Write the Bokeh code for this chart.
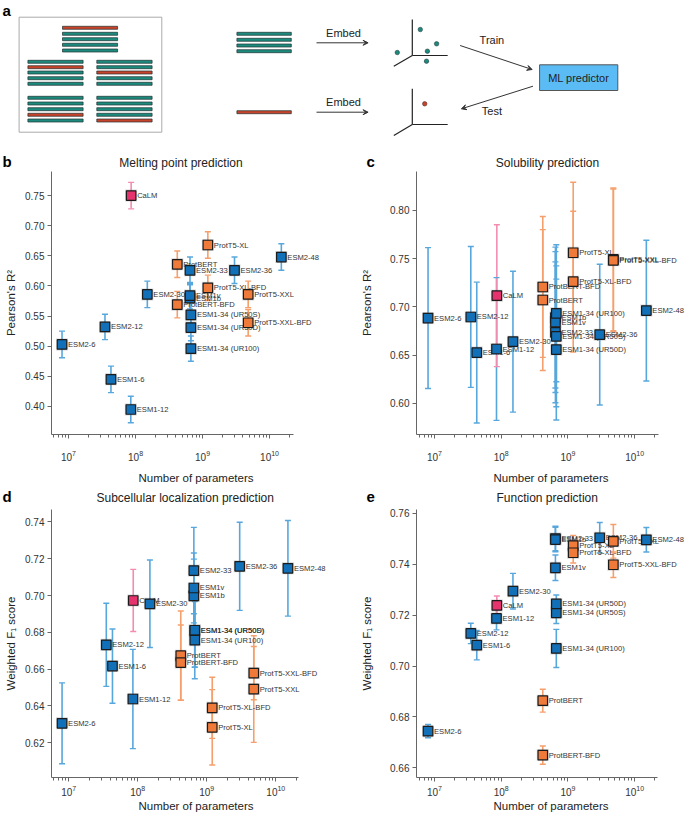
from bokeh.plotting import figure
from bokeh.models import (Range1d, FixedTicker, NumeralTickFormatter, Arrow,
                          VeeHead, ColumnDataSource)
from bokeh.layouts import column, row
from bokeh.embed import file_html
from bokeh.resources import INLINE
from bokeh.core.properties import value

FONT = "Liberation Sans"

# ---------------- data ----------------
models = ["ESM2-6", "ESM2-12", "ESM1-6", "ESM1-12", "CaLM", "ESM2-30",
          "ESM2-33", "ESM1b", "ESM1v", "ESM1-34 (UR50S)", "ESM1-34 (UR50D)",
          "ESM1-34 (UR100)", "ProtBERT", "ProtBERT-BFD", "ProtT5-XL",
          "ProtT5-XL-BFD", "ESM2-36", "ProtT5-XXL", "ProtT5-XXL-BFD", "ESM2-48"]
n_params = [8e6, 35e6, 43e6, 85e6, 86e6, 150e6, 650e6, 650e6, 650e6, 670e6, 670e6, 670e6,
            420e6, 420e6, 1.2e9, 1.2e9, 3e9, 4.8e9, 4.8e9, 15e9]

melt_r2 = [0.503, 0.532, 0.445, 0.395, 0.750, 0.586, 0.626, 0.580, 0.584, 0.552, 0.531,
           0.496, 0.636, 0.569, 0.668, 0.597, 0.626, 0.586, 0.539, 0.648]
melt_err = [0.022, 0.021, 0.022, 0.022, 0.022, 0.022, 0.022, 0.022, 0.022, 0.022, 0.022,
            0.021, 0.022, 0.022, 0.022, 0.021, 0.022, 0.022, 0.022, 0.022]

sol_r2 = [0.6885, 0.6896, 0.6527, 0.6564, 0.7117, 0.6640, 0.6737, 0.6890, 0.6844, 0.6696,
          0.6558, 0.6934, 0.7072, 0.7207, 0.7562, 0.7262, 0.6713, 0.7493, 0.7483, 0.6962]
sol_err = [0.073, 0.073, 0.073, 0.074, 0.0735, 0.073, 0.073, 0.073, 0.073, 0.073,
           0.073, 0.071, 0.073, 0.073, 0.073, 0.073, 0.073, 0.074, 0.074, 0.073]

loc_f1 = [0.6305, 0.6732, 0.6616, 0.6437, 0.6973, 0.6955, 0.7136, 0.6998, 0.7041, 0.6809,
          0.6811, 0.6757, 0.6673, 0.6635, 0.6283, 0.6389, 0.7159, 0.6491, 0.6578, 0.7148]
loc_err = [0.022, 0.0226, 0.0202, 0.027, 0.0169, 0.0238, 0.0235, 0.020, 0.019, 0.020,
           0.020, 0.021, 0.0243, 0.0205, 0.0205, 0.0166, 0.024, 0.029, 0.0145, 0.026]

fun_f1 = [0.6744, 0.7128, 0.7082, 0.7187, 0.7238, 0.7294, 0.7501, 0.7497, 0.7386, 0.7209,
          0.7244, 0.7069, 0.6864, 0.6650, 0.7473, 0.7445, 0.7504, 0.7490, 0.7398, 0.7496]
fun_err = [0.0026, 0.004, 0.0058, 0.0045, 0.0037, 0.007, 0.0048, 0.0048, 0.005, 0.0042,
           0.0035, 0.0075, 0.0045, 0.0036, 0.004, 0.004, 0.006, 0.0066, 0.005, 0.0048]

melt_ticks = [0.40, 0.45, 0.50, 0.55, 0.60, 0.65, 0.70, 0.75]
sol_ticks = [0.60, 0.65, 0.70, 0.75, 0.80]
loc_ticks = [0.62, 0.64, 0.66, 0.68, 0.70, 0.72, 0.74]
fun_ticks = [0.66, 0.68, 0.70, 0.72, 0.74, 0.76]

panel_titles = ["Melting point prediction", "Solubility prediction",
                "Subcellular localization prediction", "Function prediction"]
panel_letters = ["a", "b", "c", "d", "e"]

FILL = {"ESM": "#1170b8", "Prot": "#f07a3a", "CaLM": "#e6336e"}
ERRC = {"ESM": "#58a7dc", "Prot": "#f5a06c", "CaLM": "#f28db0"}


def fam(name):
    if name == "CaLM":
        return "CaLM"
    return "Prot" if name.startswith("Prot") else "ESM"


def panel(w, h, bl, bt, bb, xlog, xbounds, yr, yticks, ylabel, vals, errs,
          lab_so, axl_so, y_axl_so):
    p = figure(width=w, height=h, x_axis_type="log",
               x_range=Range1d(10 ** xlog[0], 10 ** xlog[1]),
               y_range=Range1d(yr[0], yr[1]),
               output_backend="svg", toolbar_location=None,
               min_border_left=bl, min_border_right=0, min_border_top=bt,
               min_border_bottom=bb)
    p.grid.visible = False
    p.outline_line_color = None
    for ax in (p.xaxis, p.yaxis):
        ax.axis_line_color = "#666666"
        ax.major_tick_line_color = "#666666"
        ax.minor_tick_line_color = "#666666"
        ax.major_tick_in = 0
        ax.major_tick_out = 4
        ax.minor_tick_in = 0
        ax.minor_tick_out = 3
        ax.major_label_text_font = FONT
        ax.major_label_text_font_size = "10px"
        ax.major_label_text_color = "#333333"
        ax.axis_label_text_font = FONT
        ax.axis_label_text_font_size = "11.5px"
        ax.axis_label_text_font_style = "normal"
        ax.axis_label_text_color = "#222222"
    p.yaxis.major_label_standoff = 3
    p.yaxis.axis_label_standoff = y_axl_so
    p.xaxis.major_label_standoff = lab_so
    p.xaxis.axis_label_standoff = axl_so
    p.xaxis.bounds = (10 ** xbounds[0], 10 ** xbounds[1])
    p.xaxis.axis_label = "Number of parameters"
    p.yaxis.axis_label = ylabel
    p.yaxis.ticker = FixedTicker(ticks=yticks)
    p.yaxis.formatter = NumeralTickFormatter(format="0.00")

    fams = [fam(m) for m in models]
    src = ColumnDataSource(dict(
        x=n_params, y=vals,
        lo=[v - e for v, e in zip(vals, errs)],
        hi=[v + e for v, e in zip(vals, errs)],
        name=models,
        fill=[FILL[f] for f in fams],
        err=[ERRC[f] for f in fams]))
    p.segment(x0="x", y0="lo", x1="x", y1="hi", line_color="err", line_width=1.6, source=src)
    p.scatter(x="x", y="lo", marker="dash", size=6, line_color="err", line_width=1.4, source=src)
    p.scatter(x="x", y="hi", marker="dash", size=6, line_color="err", line_width=1.4, source=src)
    p.text(x="x", y="y", text="name", x_offset=6, text_baseline="middle",
           text_font=value(FONT), text_font_size="7.6px", text_color="#333333", source=src)
    p.scatter(x="x", y="y", marker="square", size=12, fill_color="#777777",
              line_color=None, fill_alpha=0.3, source=src)
    p.scatter(x="x", y="y", marker="square", size=9.5, fill_color="fill",
              line_color="#1b1b1b", line_width=1.2, source=src)
    return p


pb = panel(340, 317, 51, 0, 54, (6.746, 11.059), (6.746, 10.358), (0.3535, 0.790),
           melt_ticks, "Pearson's R²", melt_r2, melt_err, 11, 8, 5)
pc = panel(345, 317, 76, 0, 54, (6.73, 10.763), (6.73, 10.36), (0.5678, 0.8404),
           sol_ticks, "Pearson's R²", sol_r2, sol_err, 11, 8, 14)
pd_ = panel(340, 310, 51, 0, 38, (6.75, 10.938), (6.75, 10.33), (0.6010, 0.7468),
            loc_ticks, "Weighted F₁ score", loc_f1, loc_err, 3, 1, 5)
pe = panel(345, 310, 76, 4, 38, (6.73, 10.763), (6.73, 10.34), (0.6562, 0.7615),
           fun_ticks, "Weighted F₁ score", fun_f1, fun_err, 3, 1, 14)

# ---------------- panel a (schematic) + titles of b, c ----------------
TEAL = "#1d8a7e"
RED = "#c8432b"
pa = figure(width=685, height=171, x_range=Range1d(0, 685), y_range=Range1d(171, 0),
            x_axis_type=None, y_axis_type=None, output_backend="svg",
            toolbar_location=None, min_border=0)
pa.grid.visible = False
pa.outline_line_color = None

pa.quad(left=[18.6], right=[161.3], top=[16.7], bottom=[131.7],
        fill_color=None, line_color="#aaaaaa", line_width=1)

groups = [
    ((62.0, 117.1), [27.3, 33.3, 38.7, 44.3, 50.0], "RTTTT"),
    ((27.4, 82.6), [61.3, 66.7, 72.0, 77.7, 83.3], "TRTTT"),
    ((96.3, 151.6), [61.3, 66.7, 72.0, 77.7, 83.3], "TTRTT"),
    ((27.4, 82.6), [97.3, 103.0, 108.7, 114.3, 120.0], "TTTRT"),
    ((96.3, 151.6), [97.3, 103.0, 108.7, 114.3, 120.0], "TTTTR"),
    ((236.4, 290.8), [33.3, 39.3, 45.0, 50.7], "TTTT"),
    ((236.4, 290.8), [111.7], "R"),
]
L, R, T, B, C = [], [], [], [], []
for (x0, x1), ys, cols in groups:
    for yy, cc in zip(ys, cols):
        L.append(x0); R.append(x1); T.append(yy - 1.5); B.append(yy + 1.5)
        C.append(TEAL if cc == "T" else RED)
pa.quad(left=L, right=R, top=T, bottom=B, fill_color=C, line_color="#203030", line_width=0.7)

ax_x0 = [411.8, 411.8, 411.8, 411.8, 411.8, 411.8]
ax_y0 = [19.0, 55.0, 55.0, 88.3, 124.0, 124.0]
ax_x1 = [411.8, 447.2, 393.3, 411.8, 447.2, 393.3]
ax_y1 = [55.0, 55.0, 65.7, 124.0, 124.0, 135.0]
pa.segment(x0=ax_x0, y0=ax_y0, x1=ax_x1, y1=ax_y1, line_color="#222222", line_width=1.2)
pa.scatter(x=[419.8, 436.1, 396.8, 426.9, 426.0], y=[29.0, 43.3, 52.0, 50.7, 60.7],
           size=4.5, fill_color=TEAL, line_color="#203030", line_width=0.5)
pa.scatter(x=[424.2], y=[103.3], size=4.5, fill_color=RED, line_color="#402020", line_width=0.5)

arrows = [((316, 42.3), (367.6, 42.3)), ((316, 111.7), (367.6, 111.7)),
          ((459.6, 45.0), (531.6, 69.0)), ((532.5, 85.7), (460.9, 108.3))]
for (xs, ys), (xe, ye) in arrows:
    pa.add_layout(Arrow(x_start=xs, y_start=ys, x_end=xe, y_end=ye,
                        line_color="#333333", line_width=1,
                        end=VeeHead(size=5, line_color="#333333", fill_color="#333333",
                                    line_width=1)))

pa.quad(left=[539.1], right=[617.3], top=[64.3], bottom=[90.0], fill_color="#5bbcf5",
        line_color="#555555", line_width=1)
pa.text(x=[343, 343, 491.4, 491.4, 578.2], y=[32.3, 101.7, 39.0, 110.7, 77.3],
        text=["Embed", "Embed", "Train", "Test", "ML predictor"],
        text_align="center", text_baseline="middle", text_font=value(FONT),
        text_font_size="11px", text_color="#222222")
pa.text(x=[2, 2, 366], y=[9.5, 160.5, 161], text=panel_letters[:3], text_align="left",
        text_baseline="middle", text_font=value(FONT), text_font_size="15px",
        text_font_style="bold", text_color="#000000")
pa.text(x=[180.5, 547], y=[162.5, 162.5], text=panel_titles[:2], text_align="center",
        text_baseline="middle", text_font=value(FONT), text_font_size="12px",
        text_color="#222222")

# ---------------- strip with titles of d, e ----------------
ps = figure(width=685, height=17, x_range=Range1d(0, 685), y_range=Range1d(505, 488),
            x_axis_type=None, y_axis_type=None, output_backend="svg",
            toolbar_location=None, min_border=0)
ps.grid.visible = False
ps.outline_line_color = None
ps.text(x=[2, 366], y=[496, 496.5], text=panel_letters[3:], text_align="left",
        text_baseline="middle", text_font=value(FONT), text_font_size="15px",
        text_font_style="bold", text_color="#000000")
ps.text(x=[184.7, 546.7], y=[497.5, 497.5], text=panel_titles[2:], text_align="center",
        text_baseline="middle", text_font=value(FONT), text_font_size="12px",
        text_color="#222222")

layout = column(pa, row(pb, pc), ps, row(pd_, pe))
open("out.html", "w").write(file_html(layout, INLINE))
